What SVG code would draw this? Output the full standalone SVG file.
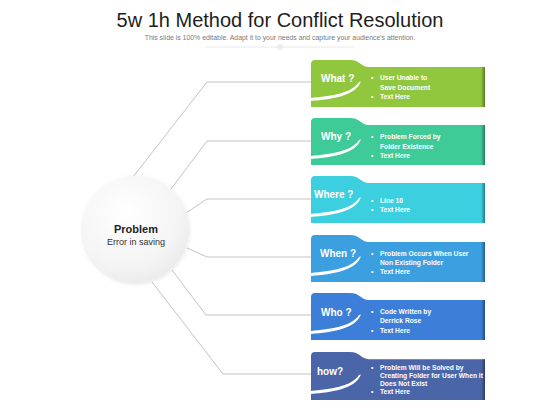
<svg xmlns="http://www.w3.org/2000/svg" width="560" height="420" viewBox="0 0 560 420">
<style>
.title{font-family:"Liberation Sans",Arial,sans-serif;font-size:20px;fill:#1e1e1e}
.sub{font-family:"Liberation Sans",Arial,sans-serif;font-size:6.9px;fill:#7a7a7a}
.conn{fill:none;stroke:#b4b4b4;stroke-width:0.8}
.lbl{font-family:"Liberation Sans",Arial,sans-serif;font-size:10px;font-weight:bold;fill:#fff}
.txt{font-family:"Liberation Sans",Arial,sans-serif;font-size:6.7px;font-weight:bold;fill:#fff}
.sw{fill:#fff}
.ph{font-family:"Liberation Sans",Arial,sans-serif;font-size:11px;font-weight:bold;fill:#222}
.ps{font-family:"Liberation Sans",Arial,sans-serif;font-size:9px;fill:#333}
</style>
<defs>
<radialGradient id="cg" cx="0.4" cy="0.35" r="0.8">
<stop offset="0" stop-color="#ffffff"/>
<stop offset="0.65" stop-color="#f4f4f4"/>
<stop offset="1" stop-color="#e3e3e3"/>
</radialGradient>
<linearGradient id="edge" x1="0" y1="0" x2="1" y2="0">
<stop offset="0" stop-color="#000" stop-opacity="0"/>
<stop offset="1" stop-color="#000" stop-opacity="0.4"/>
</linearGradient>
<filter id="sh" x="-20%" y="-20%" width="140%" height="140%">
<feDropShadow dx="0" dy="1.5" stdDeviation="2" flood-color="#000" flood-opacity="0.12"/>
</filter>
<path id="card" d="M311,4 Q311,0 315,0 L350,0 C360,0 361,7 369,7 L485,7 L485,47 L311,47 Z"/>
<path id="swoosh" d="M311,38 C330,36 351,34 359,22 L361,21.5 C355,36 333,39 311,41 Z"/>
</defs>

<text class="title" x="280" y="27" text-anchor="middle">5w 1h Method for Conflict Resolution</text>
<text class="sub" x="280" y="40" text-anchor="middle">This slide is 100% editable. Adapt it to your needs and capture your audience's attention.</text>
<line x1="205" y1="47" x2="355" y2="47" stroke="#e2e2e2" stroke-width="0.8"/>
<circle cx="280" cy="47" r="3" fill="#ececec"/>

<g id="connectors">
<polyline class="conn" points="133,177 207,82 311,82"/>
<polyline class="conn" points="171,189 207,141 311,141"/>
<polyline class="conn" points="186,213 207,199 311,199"/>
<polyline class="conn" points="187,248 207,257 311,257"/>
<polyline class="conn" points="172,270 206,315 311,315"/>
<polyline class="conn" points="152,282 223,374 311,374"/>
</g>

<g id="problem">
<circle cx="136" cy="229" r="53" fill="url(#cg)" filter="url(#sh)"/>
<text class="ph" x="136" y="233" text-anchor="middle">Problem</text>
<text class="ps" x="136" y="245" text-anchor="middle">Error in saving</text>
</g>

<g id="what" transform="translate(0,60)">
<use href="#card" fill="#91c73e"/>
<rect x="481" y="7" width="4" height="40" fill="url(#edge)"/>
<use href="#swoosh" class="sw"/>
<text class="lbl" x="321" y="22">What ?</text>
<text class="txt" x="371" y="20">•</text><text class="txt" x="380" y="20">User Unable to</text>
<text class="txt" x="380" y="29.5">Save Document</text>
<text class="txt" x="371" y="39">•</text><text class="txt" x="380" y="39">Text Here</text>
</g>

<g id="why" transform="translate(0,118)">
<use href="#card" fill="#3ecb97"/>
<rect x="481" y="7" width="4" height="40" fill="url(#edge)"/>
<use href="#swoosh" class="sw"/>
<text class="lbl" x="321" y="22">Why ?</text>
<text class="txt" x="371" y="21">•</text><text class="txt" x="380" y="21">Problem Forced by</text>
<text class="txt" x="380" y="30.5">Folder Existence</text>
<text class="txt" x="371" y="40">•</text><text class="txt" x="380" y="40">Text Here</text>
</g>

<g id="where" transform="translate(0,176)">
<use href="#card" fill="#3ccfdf"/>
<rect x="481" y="7" width="4" height="40" fill="url(#edge)"/>
<use href="#swoosh" class="sw"/>
<text class="lbl" x="314" y="22">Where ?</text>
<text class="txt" x="371" y="27">•</text><text class="txt" x="380" y="27">Line 10</text>
<text class="txt" x="371" y="36">•</text><text class="txt" x="380" y="36">Text Here</text>
</g>

<g id="when" transform="translate(0,235)">
<use href="#card" fill="#3b9fe0"/>
<rect x="481" y="7" width="4" height="40" fill="url(#edge)"/>
<use href="#swoosh" class="sw"/>
<text class="lbl" x="320" y="22">When ?</text>
<text class="txt" x="371" y="20.5">•</text><text class="txt" x="380" y="20.5">Problem Occurs When User</text>
<text class="txt" x="380" y="29.5">Non Existing Folder</text>
<text class="txt" x="371" y="39">•</text><text class="txt" x="380" y="39">Text Here</text>
</g>

<g id="who" transform="translate(0,293)">
<use href="#card" fill="#3d7fd8"/>
<rect x="481" y="7" width="4" height="40" fill="url(#edge)"/>
<use href="#swoosh" class="sw"/>
<text class="lbl" x="321" y="23">Who ?</text>
<text class="txt" x="371" y="21">•</text><text class="txt" x="380" y="21">Code Written by</text>
<text class="txt" x="380" y="30">Derrick Rose</text>
<text class="txt" x="371" y="39.5">•</text><text class="txt" x="380" y="39.5">Text Here</text>
</g>

<g id="how" transform="translate(0,352)">
<use href="#card" fill="#4a66a8" transform="scale(1,1.02)"/>
<rect x="481" y="7" width="4" height="41" fill="url(#edge)"/>
<use href="#swoosh" class="sw" transform="translate(0,1)"/>
<text class="lbl" x="317" y="23">how?</text>
<text class="txt" x="371" y="17.5">•</text><text class="txt" x="380" y="17.5">Problem Will be Solved by</text>
<text class="txt" x="380" y="25.8">Creating Folder for User When it</text>
<text class="txt" x="380" y="34.1">Does Not Exist</text>
<text class="txt" x="371" y="42.4">•</text><text class="txt" x="380" y="42.4">Text Here</text>
</g>
</svg>
